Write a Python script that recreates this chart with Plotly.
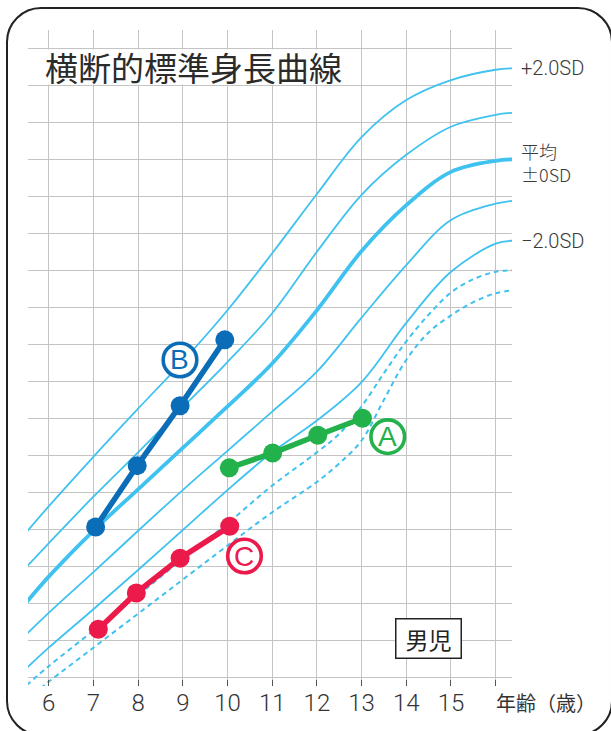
import plotly.graph_objects as go

# ---------------- data ----------------
ages = [5.5, 6, 7, 8, 9, 10, 11, 12, 13, 14, 15, 16, 16.4]
plus2sd = [119.6, 123.1, 129.8, 136.3, 142.7, 149.6, 157.3, 165.3, 173.0, 178.0, 180.7, 182.1, 182.3]
plus1sd = [114.9, 118.1, 124.4, 130.4, 136.5, 142.6, 149.2, 157.5, 165.2, 170.6, 174.4, 176.0, 176.3]
mean_sd = [110.1, 113.6, 119.8, 125.4, 131.0, 136.6, 142.4, 149.6, 157.6, 163.8, 168.3, 169.8, 170.0]
minus1sd = [105.8, 108.7, 114.2, 119.8, 125.3, 130.6, 135.9, 141.3, 148.6, 155.7, 161.8, 164.0, 164.4]
minus2sd = [101.2, 104.0, 109.2, 114.5, 119.9, 125.3, 130.4, 134.7, 139.9, 147.9, 154.8, 158.6, 159.0]

ages_dashed = [5.5, 6, 7, 8, 9, 10, 11, 12, 12.5, 13, 13.5, 14, 14.5, 15, 15.5, 16, 16.4]
minus25sd = [98.9, 101.5, 106.3, 111.1, 116.0, 120.8, 125.9, 130.4, 132.9, 136.6, 141.1, 145.4,
             149.0, 152.0, 153.8, 154.8, 155.0]
minus3sd = [97.0, 99.4, 104.0, 108.6, 113.2, 117.8, 122.3, 126.4, 128.9, 132.0, 137.5, 142.9,
            146.6, 148.9, 150.7, 151.9, 152.3]

a_age = [10.04, 11.01, 12.02, 13.02]
a_height = [128.3, 130.3, 132.7, 135.0]
b_age = [7.05, 7.98, 8.94, 9.94]
b_height = [120.3, 128.6, 136.7, 145.6]
c_age = [7.11, 7.96, 8.94, 10.05]
c_height = [106.5, 111.4, 116.1, 120.4]

tick_vals = [6, 7, 8, 9, 10, 11, 12, 13, 14, 15, 16]
tick_text = ["6", "7", "8", "9", "10", "11", "12", "13", "14", "15", ""]

title_text = "横断的標準身長曲線"
x_title = "年齢（歳）"
sex_label = "男児"

# ---------------- style ----------------
W, H = 611, 731
ML, MR, MT, MB = 28, 99, 30, 45
X_RANGE = [5.537, 16.365]
Y_RANGE = [98.824, 187.47]
CURVE = "#3FC2EF"
GRID = "#C4C4C4"
TXT = "#2b2b2b"
BLUE = "#0B6DB7"
GREEN = "#23B14B"
RED = "#EC1A4B"
CJK = "Noto Sans CJK JP"
LAT = "Roboto, Liberation Sans, sans-serif"

fig = go.Figure()

def curve(xs, y, width, dash="solid"):
    fig.add_trace(go.Scatter(
        x=xs, y=y, mode="lines",
        line=dict(color=CURVE, width=width, dash=dash, shape="spline", smoothing=1.0),
        hoverinfo="skip", showlegend=False))

curve(ages_dashed, minus3sd, 2.0, "5px,4px")
curve(ages_dashed, minus25sd, 2.0, "5px,4px")
curve(ages, minus2sd, 1.8)
curve(ages, minus1sd, 1.8)
curve(ages, plus1sd, 1.8)
curve(ages, plus2sd, 1.8)
curve(ages, mean_sd, 3.8)

def patient(xs, ys, color):
    fig.add_trace(go.Scatter(
        x=xs, y=ys, mode="lines+markers",
        line=dict(color=color, width=5.5),
        marker=dict(color=color, size=19),
        hoverinfo="skip", showlegend=False))

patient(a_age, a_height, GREEN)
patient(b_age, b_height, BLUE)
patient(c_age, c_height, RED)

shapes = []
annotations = []

# circled labels
for letter, ax, ay, color in [("B", 8.937, 142.88, BLUE),
                               ("A", 13.585, 132.51, GREEN),
                               ("C", 10.380, 116.39, RED)]:
    shapes.append(dict(type="circle", xref="x", yref="y",
                       xsizemode="pixel", ysizemode="pixel",
                       xanchor=ax, yanchor=ay,
                       x0=-16.8, x1=16.8, y0=-16.8, y1=16.8,
                       line=dict(color=color, width=3.6),
                       fillcolor="white", layer="above"))
    annotations.append(dict(x=ax, y=ay, xref="x", yref="y", text=letter,
                            showarrow=False, xanchor="center", yanchor="middle",
                            font=dict(family="Liberation Sans, Arial, sans-serif",
                                      size=28, color=color)))

# rounded frame (pixel geometry converted to paper coords)
def px(xp, yp):
    return ((xp - ML) / (W - ML - MR), (H - MB - yp) / (H - MT - MB))

x0f, x1f, y0f, y1f, R = 7, 612, 8, 735, 34
k = 0.5523 * R
def P(xp, yp):
    a, b = px(xp, yp)
    return f"{a:.5f},{b:.5f}"
path = (f"M{P(x0f+R, y0f)} L{P(x1f-R, y0f)} "
        f"C{P(x1f-R+k, y0f)} {P(x1f, y0f+R-k)} {P(x1f, y0f+R)} "
        f"L{P(x1f, y1f-R)} "
        f"C{P(x1f, y1f-R+k)} {P(x1f-R+k, y1f)} {P(x1f-R, y1f)} "
        f"L{P(x0f+R, y1f)} "
        f"C{P(x0f+R-k, y1f)} {P(x0f, y1f-R+k)} {P(x0f, y1f-R)} "
        f"L{P(x0f, y0f+R)} "
        f"C{P(x0f, y0f+R-k)} {P(x0f+R-k, y0f)} {P(x0f+R, y0f)} Z")
shapes.append(dict(type="path", xref="paper", yref="paper", path=path,
                   line=dict(color="#222222", width=2), layer="above"))

# title
tx, ty = px(44, 66.5)
annotations.append(dict(x=tx, y=ty, xref="paper", yref="paper", text=title_text,
                        showarrow=False, xanchor="left", yanchor="middle",
                        bgcolor="white", height=34, borderpad=0,
                        font=dict(family=CJK, size=33, color=TXT)))

# right-side SD labels
lx, _ = px(519, 0)
for txt, yv, fam, fs in [("+2.0SD", 182.34, LAT, 20),
                         ("平均<br>±0SD", 169.5, CJK, 18),
                         ("−2.0SD", 158.9, LAT, 20)]:
    annotations.append(dict(x=lx, y=yv, xref="paper", yref="y", text=txt,
                            showarrow=False, xanchor="left", yanchor="middle",
                            align="left",
                            font=dict(family=fam, size=fs, color="#3a3a3a", weight=300)))

# x-axis title
ax_, ay_ = px(494, 702)
annotations.append(dict(x=ax_, y=ay_, xref="paper", yref="paper", text=x_title,
                        showarrow=False, xanchor="left", yanchor="middle",
                        font=dict(family=CJK, size=20, color="#333333")))

# sex label box
annotations.append(dict(x=14.508, y=105.18, xref="x", yref="y", text=sex_label,
                        showarrow=False, xanchor="center", yanchor="middle",
                        width=62, height=36, borderpad=1, borderwidth=1.5,
                        bordercolor="#222222", bgcolor="white",
                        font=dict(family=CJK, size=23, color="#222222")))

fig.update_layout(
    width=W, height=H,
    margin=dict(l=ML, r=MR, t=MT, b=MB, pad=0),
    paper_bgcolor="white", plot_bgcolor="white",
    showlegend=False,
    shapes=shapes, annotations=annotations,
    xaxis=dict(range=X_RANGE, tickmode="array", tickvals=tick_vals, ticktext=tick_text,
               showgrid=True, gridcolor=GRID, gridwidth=1.2,
               ticks="inside", ticklen=6, tickcolor="#555555", tickwidth=1.2,
               zeroline=False, showline=False, fixedrange=True,
               tickfont=dict(family=LAT, size=24, color="#333333", weight=300)),
    yaxis=dict(range=Y_RANGE, tick0=100, dtick=5, showgrid=True, gridcolor=GRID,
               gridwidth=1.2, showticklabels=False, ticks="", zeroline=False,
               showline=False, fixedrange=True),
)

fig.write_html("out.html", config={"displayModeBar": False},
               post_script="document.body.style.margin='0px';document.body.style.overflow='hidden';")
